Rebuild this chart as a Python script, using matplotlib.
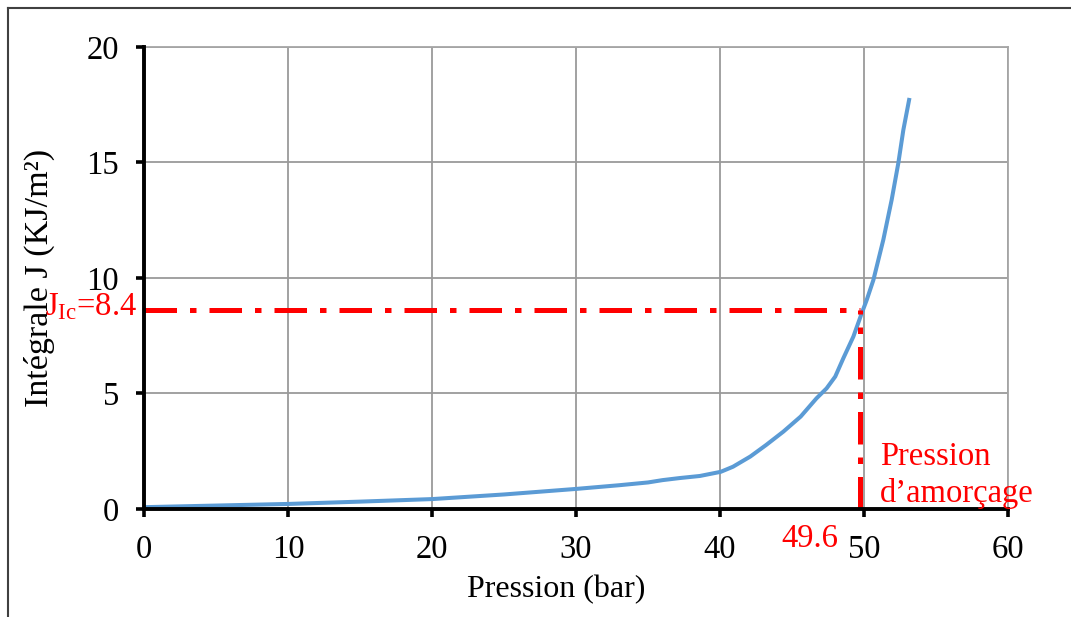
import matplotlib.pyplot as plt
from matplotlib.lines import Line2D

plt.rcParams['font.family'] = ['Liberation Serif', 'DejaVu Serif']
plt.rcParams['mathtext.fontset'] = 'custom'
plt.rcParams['mathtext.rm'] = 'Liberation Serif'
plt.rcParams['mathtext.it'] = 'Liberation Serif:italic'

# Curve
pression = [0, 5, 10, 15, 20, 25, 30, 33, 35, 36, 37.2, 38.6, 40.05, 40.9,
            42.1, 43.2, 44.4, 45.6, 46.7, 47.4, 48.0, 48.56, 49.26, 49.84,
            50.19, 50.65, 51.34, 51.92, 52.38, 52.73, 53.13]
integrale_j = [0.08, 0.15, 0.22, 0.32, 0.43, 0.63, 0.87, 1.03, 1.15, 1.25, 1.34,
               1.43, 1.61, 1.83, 2.27, 2.77, 3.35, 4.0, 4.79, 5.22, 5.73, 6.52,
               7.46, 8.47, 9.05, 9.91, 11.65, 13.38, 14.96, 16.4, 17.7]

# Critical point (drawn position) and its labels
p_amorcage = 49.7
j_ic = 8.6
p_label = "49.6"
jic_label = r"J$_{\mathrm{Ic}}$=8.4"

x_ticks = [0, 10, 20, 30, 40, 50, 60]
y_ticks = [0, 5, 10, 15, 20]

fig = plt.figure(figsize=(10.71, 6.17), dpi=100)
ax = fig.add_axes([0.1345, 0.175, 0.8067, 0.7492])

ax.plot(pression, integrale_j, color='#5B9BD5', lw=2.9, zorder=3,
        solid_joinstyle='round')

red_style = dict(color='red', lw=3.6, linestyle=(0, (6.5, 2.6, 1.3, 2.6)), zorder=4)
ax.plot([0, p_amorcage], [j_ic, j_ic], **red_style)
ax.plot([p_amorcage, p_amorcage], [0, j_ic], **red_style)

ax.set_xlim(0, 60)
ax.set_ylim(0, 20)
ax.set_xticks(x_ticks)
ax.set_yticks(y_ticks)
ax.grid(True, color='#9a9a9a', lw=1.3)
ax.set_axisbelow(True)

for side in ['top', 'right']:
    ax.spines[side].set_color('#a6a6a6')
    ax.spines[side].set_linewidth(1.3)
for side in ['left', 'bottom']:
    ax.spines[side].set_color('black')
    ax.spines[side].set_linewidth(2.8)
    ax.spines[side].set_zorder(5)

ax.tick_params(direction='out', length=6, width=2.6, labelsize=23.5,
               color='black', pad=12)

ax.set_xlabel("Pression (bar)", fontsize=23)
ax.set_ylabel("Intégrale J (KJ/m²)", fontsize=24.5)
ax.xaxis.set_label_coords(0.477, -0.142)
ax.yaxis.set_label_coords(-0.103, 0.5)

# Red annotations
ax.text(-0.5, j_ic - 0.2, jic_label, color='red', fontsize=23.5,
        ha='right', va='baseline', clip_on=False)
ax.text(46.25, -0.065, p_label, color='red', fontsize=23.5, ha='center',
        va='center', transform=ax.get_xaxis_transform(), clip_on=False)
ax.text(51.1, 0.3, "Pression\nd\u2019amorçage", color='red', fontsize=23.5,
        ha='left', va='baseline', linespacing=1.25, clip_on=False, zorder=6)

# Frame around the figure (left and top edges)
fig.add_artist(Line2D([8 / 1071, 8 / 1071], [0, 1 - 8 / 617],
                      transform=fig.transFigure, color='#404040', lw=1.5))
fig.add_artist(Line2D([8 / 1071, 1], [1 - 8 / 617, 1 - 8 / 617],
                      transform=fig.transFigure, color='#404040', lw=1.5))

fig.savefig("out.png", dpi=100)
